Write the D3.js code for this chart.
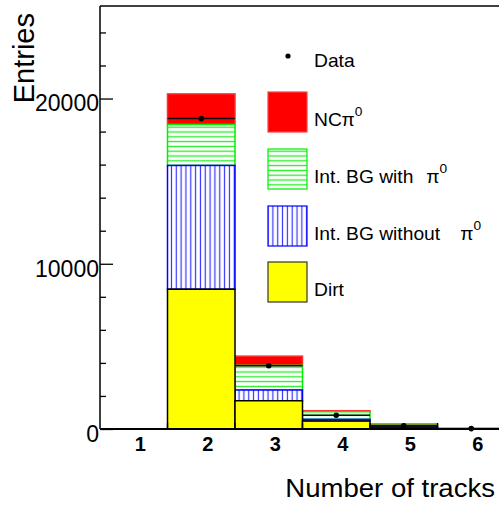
<!DOCTYPE html>
<html>
<head>
<meta charset="utf-8">
<style>
  body { margin: 0; background: #fff; }
  text { font-family: "Liberation Sans", Arial, sans-serif; fill: #000; }
</style>
</head>
<body>
<div id="chart-area"></div>

<script src="https://cdn.jsdelivr.net/npm/d3@7/dist/d3.min.js"></script>
<script>
    // number of tracks bins
    const bins = [1, 2, 3, 4, 5, 6];
    // stacked MC components (entries per bin)
    const dirt     = [0, 8460, 1710, 480, 110, 8];
    const bgNoPi0  = [0, 7490, 650, 105, 40, 4];
    const bgPi0    = [0, 2480, 1490, 460, 80, 6];
    const ncPi0    = [0, 1850, 560, 60, 70, 4];
    const dataVals = [null, 18790, 3830, 830, 190, 25];
    const yMajor = [0, 10000, 20000];
    const yMinor = [2000, 4000, 6000, 8000, 12000, 14000, 16000, 18000, 22000, 24000];

    const width = 499, height = 506;
    const x0 = 100, yBase = 429, yTop = 6;

    const svg = d3.select("#chart-area").append("svg")
        .attr("width", width)
        .attr("height", height);

    const x = d3.scaleLinear().domain([0.5, 6.5]).range([x0, 505]);
    const y = d3.scaleLinear().domain([0, 25600]).range([yBase, yTop]);

    // hatch patterns
    const defs = svg.append("defs");
    const pg = defs.append("pattern").attr("id", "hatchGreen")
        .attr("patternUnits", "userSpaceOnUse").attr("width", 10).attr("height", 4.8);
    pg.append("rect").attr("width", 10).attr("height", 4.8).attr("fill", "#fff");
    pg.append("line").attr("x1", 0).attr("x2", 10).attr("y1", 2.4).attr("y2", 2.4)
        .attr("stroke", "#22ee22").attr("stroke-width", 1.3);
    const pb = defs.append("pattern").attr("id", "hatchBlue")
        .attr("patternUnits", "userSpaceOnUse").attr("width", 4.83).attr("height", 10);
    pb.append("rect").attr("width", 4.83).attr("height", 10).attr("fill", "#fff");
    pb.append("line").attr("y1", 0).attr("y2", 10).attr("x1", 2.4).attr("x2", 2.4)
        .attr("stroke", "#3333ff").attr("stroke-width", 1.2);

    const table = bins.map((b, i) => ({
        bin: b, dirt: dirt[i], bgNoPi0: bgNoPi0[i], bgPi0: bgPi0[i], ncPi0: ncPi0[i]
    }));
    const keys = ["dirt", "bgNoPi0", "bgPi0", "ncPi0"];
    const style = {
        dirt:    {fill: "#ffff00", stroke: "#000"},
        bgNoPi0: {fill: "url(#hatchBlue)", stroke: "#0000ff"},
        bgPi0:   {fill: "url(#hatchGreen)", stroke: "#00ee00"},
        ncPi0:   {fill: "#ff0000", stroke: "#ff3030"}
    };
    const stacked = d3.stack().keys(keys)(table);

    // draw from the top layer down, like a THStack
    stacked.slice().reverse().forEach(layer => {
        svg.append("g").selectAll("rect")
            .data(layer.filter(d => d[1] - d[0] > 0))
            .join("rect")
                .attr("x", d => x(d.data.bin - 0.5))
                .attr("width", d => x(d.data.bin + 0.5) - x(d.data.bin - 0.5))
                .attr("y", d => y(d[1]))
                .attr("height", d => y(d[0]) - y(d[1]))
                .attr("fill", style[layer.key].fill)
                .attr("stroke", style[layer.key].stroke)
                .attr("stroke-width", 1.5);
    });

    // data points with horizontal bin-width bars
    const pts = bins.map((b, i) => ({bin: b, v: dataVals[i]})).filter(d => d.v !== null);
    svg.append("g").selectAll("line")
        .data(pts)
        .join("line")
            .attr("x1", d => x(d.bin - 0.5))
            .attr("x2", d => x(d.bin + 0.5))
            .attr("y1", d => y(d.v))
            .attr("y2", d => y(d.v))
            .attr("stroke", "#111")
            .attr("stroke-width", 1.6);
    svg.append("g").selectAll("circle")
        .data(pts)
        .join("circle")
            .attr("cx", d => x(d.bin))
            .attr("cy", d => y(d.v))
            .attr("r", 2.8)
            .attr("fill", "#000");

    // frame
    svg.append("line").attr("x1", x0).attr("x2", width).attr("y1", yTop).attr("y2", yTop)
        .attr("stroke", "#000").attr("stroke-width", 1.5);
    svg.append("line").attr("x1", x0).attr("x2", x0).attr("y1", yTop).attr("y2", yBase)
        .attr("stroke", "#000").attr("stroke-width", 1.5);
    svg.append("line").attr("x1", x0).attr("x2", width).attr("y1", yBase).attr("y2", yBase)
        .attr("stroke", "#000").attr("stroke-width", 2);

    // y axis ticks (inside)
    const yAxisMinor = svg.append("g").attr("transform", `translate(${x0},0)`)
        .call(d3.axisLeft(y).tickValues(yMinor).tickSize(-6).tickFormat(""));
    const yAxisMajor = svg.append("g").attr("transform", `translate(${x0},0)`)
        .call(d3.axisLeft(y).tickValues(yMajor).tickSize(-13).tickPadding(1).tickFormat(d3.format("d")));
    svg.selectAll(".domain").remove();
    svg.selectAll(".tick line").attr("stroke-width", 1.3);
    yAxisMajor.selectAll("text")
        .attr("font-size", 23)
        .attr("font-family", "Liberation Sans, Arial, sans-serif")
        .attr("dy", "0.54em");

    // x axis ticks at bin edges
    const edges = bins.map(b => b + 0.5).slice(0, 5);
    svg.append("g").selectAll("line")
        .data(edges)
        .join("line")
            .attr("x1", d => x(d)).attr("x2", d => x(d))
            .attr("y1", yBase).attr("y2", yBase - 6)
            .attr("stroke", "#000").attr("stroke-width", 1.3);
    svg.append("g").selectAll("text")
        .data(bins)
        .join("text")
            .attr("x", d => x(d) + 6.5)
            .attr("y", 451)
            .attr("text-anchor", "middle")
            .attr("font-size", 20)
            .attr("font-weight", "bold")
            .text(d => d);

    // axis titles
    svg.append("text")
        .attr("transform", "translate(34,13) rotate(-90)")
        .attr("text-anchor", "end")
        .attr("font-size", 29)
        .text("Entries");
    svg.append("text")
        .attr("transform", "translate(495,497) scale(1.06,1)")
        .attr("text-anchor", "end")
        .attr("font-size", 26)
        .text("Number of tracks");

    // legend
    const lg = svg.append("g");
    lg.append("circle").attr("cx", 288).attr("cy", 56).attr("r", 2.6).attr("fill", "#000");
    lg.append("text").attr("transform", "translate(314,67) scale(1.1,1)")
        .attr("font-size", 17.5).text("Data");

    const legendRows = [
        {y: 92,  fill: "#ff0000", stroke: "#ff4040", label: "NC", gap: 25},
        {y: 149, fill: "url(#hatchGreen)", stroke: "#00ee00", label: "Int. BG with", gap: 102},
        {y: 206, fill: "url(#hatchBlue)", stroke: "#0000ff", label: "Int. BG without", gap: 133},
        {y: 262, fill: "#ffff00", stroke: "#333", label: "Dirt", gap: null}
    ];
    legendRows.forEach(r => {
        lg.append("rect").attr("x", 268).attr("y", r.y).attr("width", 39).attr("height", 40)
            .attr("fill", r.fill).attr("stroke", r.stroke).attr("stroke-width", 1.2);
        const t = lg.append("text")
            .attr("transform", `translate(314,${r.y + 34}) scale(1.1,1)`)
            .attr("font-size", 17.5);
        t.append("tspan").text(r.label);
        if (r.gap !== null) {
            t.append("tspan").attr("x", r.gap).text("π");
            t.append("tspan").attr("dy", -10).attr("font-size", 12.5).text("0");
        }
    });
</script>
</body>
</html>
